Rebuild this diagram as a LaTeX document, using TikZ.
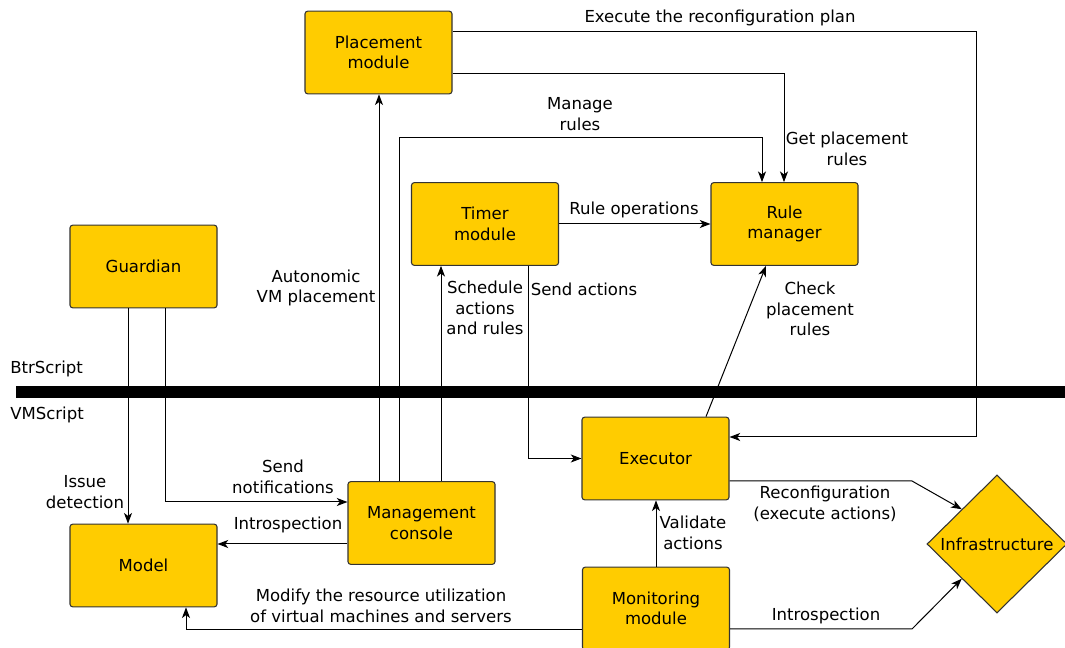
\documentclass[tikz,border=0pt]{standalone}
\usepackage{fontspec}
\setmainfont{DejaVu Sans}
\usetikzlibrary{shapes.geometric,arrows.meta}
\definecolor{boxfill}{HTML}{FFCC00}
\definecolor{boxline}{HTML}{333333}
\newcommand\dfont{\fontsize{12.4pt}{15.5pt}\selectfont}
\begin{document}
\begin{tikzpicture}[x=0.75pt,y=-0.75pt,
  every node/.style={font=\dfont},
  box/.style={draw=boxline,fill=boxfill,rounded corners=2pt,line width=0.8pt,
    minimum width=110.25pt,minimum height=62pt,inner sep=0pt,align=center},
  lbl/.style={inner sep=0pt,align=center},
  arr/.style={draw=black,line width=0.75pt,-{Stealth[length=8pt,width=6pt,inset=2.2pt]}}]
\useasboundingbox (0,0) rectangle (1065,648);
\fill[white] (0,0) rectangle (1065,648);

% boxes
\node[box] (place) at (378.5,52.5) {Placement\\module};
\node[box] (timer) at (485,224) {Timer\\module};
\node[box] (rule) at (784.5,224) {Rule\\manager};
\node[box] (guard) at (143.5,266.5) {Guardian};
\node[box] (mgmt) at (421.5,523) {Management\\console};
\node[box] (model) at (143.5,565.5) {Model};
\node[box] (exec) at (655.5,458.5) {Executor};
\node[box] (monit) at (656,608.5) {Monitoring\\module};
\node[diamond,draw=boxline,fill=boxfill,line width=0.8pt,inner sep=0pt,
  minimum width=105pt,minimum height=103.5pt,
  label={center:Infrastructure}] (infra) at (997,544) {};

% separator bar
\draw[line width=9pt] (16,392) coordinate (barl) -- (1065,392) coordinate (barr);
\node[lbl,anchor=west] (btr) at (10,369) {BtrScript};
\node[lbl,anchor=west] (vms) at (10,415) {VMScript};

% bend coordinates
\coordinate (k1) at (976,32);
\coordinate (k2) at (976,437);
\coordinate (k3) at (784,74);
\coordinate (k4) at (399,138);
\coordinate (k5) at (762,138);
\coordinate (k6) at (379,0);
\coordinate (k7) at (441,0);
\coordinate (k8) at (528,458.5);
\coordinate (k9) at (706,0);
\coordinate (k10) at (766,0);
\coordinate (k11) at (128,0);
\coordinate (k12) at (165,502);
\coordinate (k13) at (0,544);
\coordinate (k14) at (186,630);
\coordinate (k15) at (912,481);
\coordinate (k16) at (912,629);

% connectors
\draw[arr] (place.east |- k1) -- (k1) -- (k2) -- (exec.east |- k2);
\draw[arr] (place.east |- k3) -| (rule.north -| k3);
\draw[arr] (mgmt.north -| k4) -- (k4) -- (k5) -- (rule.north -| k5);
\draw[arr] (mgmt.north -| k6) -- (place.south -| k6);
\draw[arr] (mgmt.north -| k7) -- (timer.south -| k7);
\draw[arr] (timer.south -| k8) -- (k8) -- (exec.west |- k8);
\draw[arr] (timer.east) -- (rule.west);
\draw[arr] (exec.north -| k9) -- (rule.south -| k10);
\draw[arr] (guard.south -| k11) -- (model.north -| k11);
\draw[arr] (guard.south -| k12) -- (k12) -- (mgmt.west |- k12);
\draw[arr] (mgmt.west |- k13) -- (model.east |- k13);
\draw[arr] (monit.west |- k14) -- (k14) -- (model.south -| k14);
\draw[arr] (monit.north) -- (monit.north |- exec.south);
\draw[arr] (exec.east |- k15) -- (k15) -- (infra.north west);
\draw[arr] (monit.east |- k16) -- (k16) -- (infra.south west);

% connector labels
\node[lbl] (l1) at (720,18) {Execute the reconfiguration plan};
\node[lbl] (l2) at (847,149) {Get placement\\rules};
\node[lbl] (l3) at (580,114) {Manage\\rules};
\node[lbl] (l4) at (634,210) {Rule operations};
\node[lbl] (l5) at (316,288) {Autonomic\\VM placement};
\node[lbl] (l6) at (485,308) {Schedule\\actions\\and rules};
\node[lbl] (l7) at (584,289) {Send actions};
\node[lbl] (l8) at (810,309) {Check\\placement\\rules};
\node[lbl] (l9) at (85,492) {Issue\\detection};
\node[lbl] (l10) at (283,477) {Send\\notifications};
\node[lbl] (l11) at (288,525) {Introspection};
\node[lbl] (l12) at (381,606) {Modify the resource utilization\\of virtual machines and servers};
\node[lbl] (l13) at (693,533) {Validate\\actions};
\node[lbl] (l14) at (825,504) {Reconfiguration\\(execute actions)};
\node[lbl] (l15) at (826,616) {Introspection};
\end{tikzpicture}
\end{document}
